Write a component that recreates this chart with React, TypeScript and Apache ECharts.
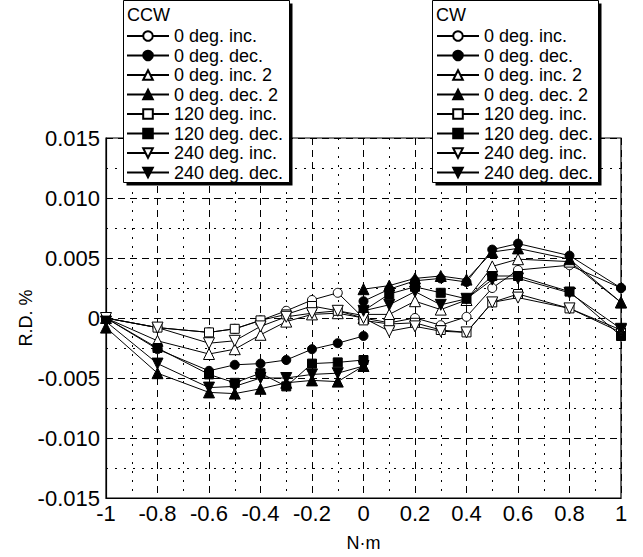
import React, { useEffect, useRef } from 'react';
import * as echarts from 'echarts';

// x positions (N·m)
const xCCW = [-1, -0.8, -0.6, -0.5, -0.4, -0.3, -0.2, -0.1, 0];
const xCW = [0, 0.1, 0.2, 0.3, 0.4, 0.5, 0.6, 0.8, 1];

const seriesNames = [
  '0 deg. inc.',
  '0 deg. dec.',
  '0 deg. inc. 2',
  '0 deg. dec. 2',
  '120 deg. inc.',
  '120 deg. dec.',
  '240 deg. inc.',
  '240 deg. dec.',
];

// CCW values (R.D. %)
const ccw0Inc = [0, -0.0008, -0.0012, -0.0009, -0.0002, 0.0006, 0.0015, 0.0021, 0.0];
const ccw0Dec = [0, -0.0026, -0.0044, -0.0039, -0.0038, -0.0035, -0.0026, -0.0021, -0.0015];
const ccw0Inc2 = [0, -0.0019, -0.003, -0.0026, -0.0014, -0.0003, 0.0003, 0.0004, 0.0];
const ccw0Dec2 = [-0.0008, -0.0046, -0.0062, -0.0063, -0.0059, -0.0054, -0.0052, -0.0053, -0.004];
const ccw120Inc = [0, -0.0008, -0.0012, -0.0009, -0.0002, 0.0003, 0.001, 0.0006, 0.0002];
const ccw120Dec = [0, -0.0025, -0.0047, -0.0054, -0.0046, -0.0057, -0.0038, -0.0037, -0.0035];
const ccw240Inc = [0, -0.0008, -0.0021, -0.0019, -0.0007, 0.0001, 0.0004, 0.0006, 0.0];
const ccw240Dec = [-0.0003, -0.0038, -0.0058, -0.0057, -0.005, -0.005, -0.0047, -0.0046, -0.004];

// CW values (R.D. %)
const cw0Inc = [0.0, -0.0004, 0.0, -0.0006, 0.0001, 0.0025, 0.004, 0.0044, 0.0025];
const cw0Dec = [0.0014, 0.0024, 0.0031, 0.0033, 0.003, 0.0057, 0.0062, 0.0052, 0.0025];
const cw0Inc2 = [0.0003, 0.0003, 0.0014, 0.0007, 0.0015, 0.0043, 0.0049, 0.0047, 0.0013];
const cw0Dec2 = [0.0024, 0.0027, 0.0033, 0.0035, 0.0032, 0.0055, 0.0058, 0.0049, 0.0013];
const cw120Inc = [-0.0002, -0.0005, -0.0004, -0.001, -0.0012, 0.0013, 0.002, 0.0008, -0.0012];
const cw120Dec = [0.0006, 0.002, 0.0026, 0.0021, 0.0016, 0.0035, 0.0035, 0.0022, -0.0015];
const cw240Inc = [0.0, -0.0011, -0.0007, -0.0011, -0.0012, 0.0013, 0.0017, 0.0008, -0.001];
const cw240Dec = [0.0006, 0.0011, 0.0022, 0.0011, 0.0016, 0.0032, 0.0033, 0.0021, -0.0009];

const ccwValues = [ccw0Inc, ccw0Dec, ccw0Inc2, ccw0Dec2, ccw120Inc, ccw120Dec, ccw240Inc, ccw240Dec];
const cwValues = [cw0Inc, cw0Dec, cw0Inc2, cw0Dec2, cw120Inc, cw120Dec, cw240Inc, cw240Dec];

const symbolKinds = ['circle', 'circle', 'triangle', 'triangle', 'rect', 'rect', 'triangle', 'triangle'];
const symbolRot = [0, 0, 0, 0, 0, 0, 180, 180];
const symbolFilled = [false, true, false, true, false, true, false, true];
const symbolSizes = [9, 9, 11, 11, 9, 9, 11, 11];

const yTicks = { min: -0.015, max: 0.015, step: 0.005 };
const xTicks = { min: -1, max: 1, step: 0.2 };

const FONT = 'Liberation Sans, Arial, sans-serif';

function buildSeries(xs: number[], values: number[][]) {
  return values.map((vals, i) => ({
    type: 'line',
    name: seriesNames[i],
    data: xs.map((x, j) => [x, vals[j]]),
    symbol: symbolKinds[i],
    symbolRotate: symbolRot[i],
    symbolSize: symbolSizes[i],
    showAllSymbol: true,
    lineStyle: { color: '#000', width: 1 },
    itemStyle: {
      color: symbolFilled[i] ? '#000' : '#fff',
      borderColor: '#000',
      borderWidth: 1,
    },
    emphasis: { disabled: true },
    z: 3,
  }));
}

export default function App() {
  const ref = useRef<HTMLDivElement>(null);
  useEffect(() => {
    if (!ref.current) return;
    const chart = echarts.init(ref.current, undefined, { renderer: 'svg' });
    const legendCommon = {
      orient: 'vertical',
      itemWidth: 42,
      itemHeight: 12,
      itemGap: 1.5,
      padding: 0,
      data: seriesNames,
      selectedMode: false,
      z: 110,
      textStyle: { fontSize: 18, lineHeight: 18, color: '#000', fontFamily: FONT },
    };
    const boxes = [
      { x: 123, title: 'CCW' },
      { x: 432, title: 'CW' },
    ];
    const graphic: any[] = [];
    boxes.forEach((b) => {
      graphic.push({
        type: 'rect',
        z: 100,
        shape: { x: b.x + 3.5, y: 3.5, width: 166, height: 182 },
        style: { fill: '#000' },
      });
      graphic.push({
        type: 'rect',
        z: 101,
        shape: { x: b.x + 0.5, y: 0.5, width: 166, height: 182 },
        style: { fill: '#fff', stroke: '#000', lineWidth: 1 },
      });
      graphic.push({
        type: 'text',
        z: 102,
        x: b.x + 4,
        y: 15,
        style: { text: b.title, font: `18px ${FONT}`, fill: '#000', verticalAlign: 'middle' },
      });
    });
    chart.setOption({
      animation: false,
      backgroundColor: '#fff',
      grid: {
        left: 106,
        right: 22,
        top: 138,
        bottom: 58,
        show: true,
        borderColor: '#000',
        borderWidth: 1.2,
        backgroundColor: 'transparent',
      },
      xAxis: {
        type: 'value',
        min: xTicks.min,
        max: xTicks.max,
        interval: xTicks.step,
        name: 'N·m',
        nameLocation: 'middle',
        nameGap: 36,
        nameMoveOverlap: false,
        nameTextStyle: { fontSize: 18, color: '#000', fontFamily: FONT },
        axisLine: { show: true, onZero: false, lineStyle: { color: '#000', width: 1.2 } },
        axisTick: { show: false },
        axisLabel: {
          fontSize: 22,
          color: '#000',
          fontFamily: FONT,
          margin: 4,
          formatter: (v: number) => String(Number(v.toFixed(1))),
        },
        splitLine: { show: true, lineStyle: { color: '#000', type: [7, 5], width: 1 } },
        minorTick: { show: false, splitNumber: 2 },
        minorSplitLine: { show: true, lineStyle: { color: '#000', type: [2, 7], width: 1 } },
      },
      yAxis: {
        type: 'value',
        min: yTicks.min,
        max: yTicks.max,
        interval: yTicks.step,
        name: 'R.D. %',
        nameLocation: 'middle',
        nameGap: 71,
        nameMoveOverlap: false,
        nameTextStyle: { fontSize: 18, color: '#000', fontFamily: FONT },
        axisLine: { show: true, onZero: false, lineStyle: { color: '#000', width: 1.2 } },
        axisTick: { show: false },
        axisLabel: {
          fontSize: 22,
          color: '#000',
          fontFamily: FONT,
          margin: 6,
          formatter: (v: number) => {
            const r = Math.round(v * 1000) / 1000;
            return r === 0 ? '0' : r.toFixed(3);
          },
        },
        splitLine: { show: true, lineStyle: { color: '#000', type: [7, 5], width: 1 } },
        minorTick: { show: false, splitNumber: 2 },
        minorSplitLine: { show: true, lineStyle: { color: '#000', type: [2, 7], width: 1 } },
      },
      legend: [
        { ...legendCommon, left: 126, top: 27 },
        { ...legendCommon, left: 436, top: 27 },
      ],
      graphic,
      series: [...buildSeries(xCCW, ccwValues), ...buildSeries(xCW, cwValues)],
    });
    return () => chart.dispose();
  }, []);
  return (
    <div
      ref={ref}
      style={{ position: 'absolute', left: 0, top: 0, width: 643, height: 557, background: '#fff' }}
    />
  );
}
